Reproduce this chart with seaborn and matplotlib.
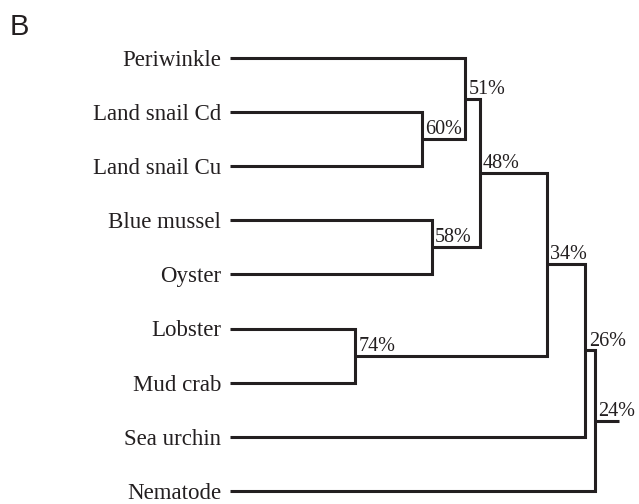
import numpy as np
import pandas as pd
import seaborn as sns
import matplotlib.pyplot as plt

# %% DATA
leaves = ['Periwinkle', 'Land snail Cd', 'Land snail Cu', 'Blue mussel', 'Oyster',
          'Lobster', 'Mud crab', 'Sea urchin', 'Nematode']
# merges: node ids 0-8 are leaves, each merge creates node 9, 10, ...
merge_left = [1, 3, 0, 11, 5, 12, 14, 15]
merge_right = [2, 4, 9, 10, 6, 13, 7, 8]
similarity = [60, 58, 51, 48, 74, 34, 26, 24]
leaf_similarity = 100
root_stub = 5  # length of the stub left of the root, in % units

# %% BUILD SEGMENTS
node_x = {i: leaf_similarity for i in range(len(leaves))}
node_y = {i: float(i) for i in range(len(leaves))}
rows = []
for k, (a, b, s) in enumerate(zip(merge_left, merge_right, similarity)):
    nid = len(leaves) + k
    pts = [(node_x[a], node_y[a]), (s, node_y[a]), (s, node_y[b]), (node_x[b], node_y[b])]
    for j, (x, y) in enumerate(pts):
        rows.append({'x': x, 'y': y, 'seg': k, 'order': j})
    node_x[nid] = s
    node_y[nid] = (node_y[a] + node_y[b]) / 2
root = len(leaves) + len(similarity) - 1
rows.append({'x': node_x[root], 'y': node_y[root], 'seg': 99, 'order': 0})
rows.append({'x': node_x[root] - root_stub, 'y': node_y[root], 'seg': 99, 'order': 1})
seg_df = pd.DataFrame(rows)

# %% PLOT
sns.set_style("white")
plt.rcParams['font.family'] = ['Liberation Serif', 'DejaVu Serif']
ink = '#231f20'

fig = plt.figure(figsize=(6.39, 5.04), dpi=100)
ax = fig.add_axes([230 / 639, 0, 409 / 639, 1])

sns.lineplot(data=seg_df, x='x', y='y', units='seg', estimator=None, sort=False,
             color=ink, lw=2.2, ax=ax, legend=False)
for line in ax.lines:
    line.set_solid_joinstyle('miter')
    line.set_solid_capstyle('butt')

for k, s in enumerate(similarity):
    nid = len(leaves) + k
    ax.annotate(f'{s}%', (s, node_y[nid]), xytext=(2.5, 3.5), textcoords='offset points',
                ha='left', va='baseline', fontsize=14.5, color=ink)

px = 4.8  # pixels per % unit
top, step = 58, 54.1
ax.set_xlim(leaf_similarity, leaf_similarity - 409 / px)
ax.set_ylim((504 - top) / step, -top / step)
ax.set_yticks(range(len(leaves)))
ax.set_yticklabels(leaves, fontsize=16.5, color=ink)
ax.tick_params(axis='y', length=0, pad=6.5)
ax.set_xticks([])
ax.set_xlabel('')
ax.set_ylabel('')
sns.despine(ax=ax, left=True, bottom=True)

fig.text(10 / 639, 1 - 35 / 504, 'B', fontsize=21, family='Liberation Sans',
         va='baseline', ha='left', color=ink)

fig.savefig('out.png', dpi=100)
